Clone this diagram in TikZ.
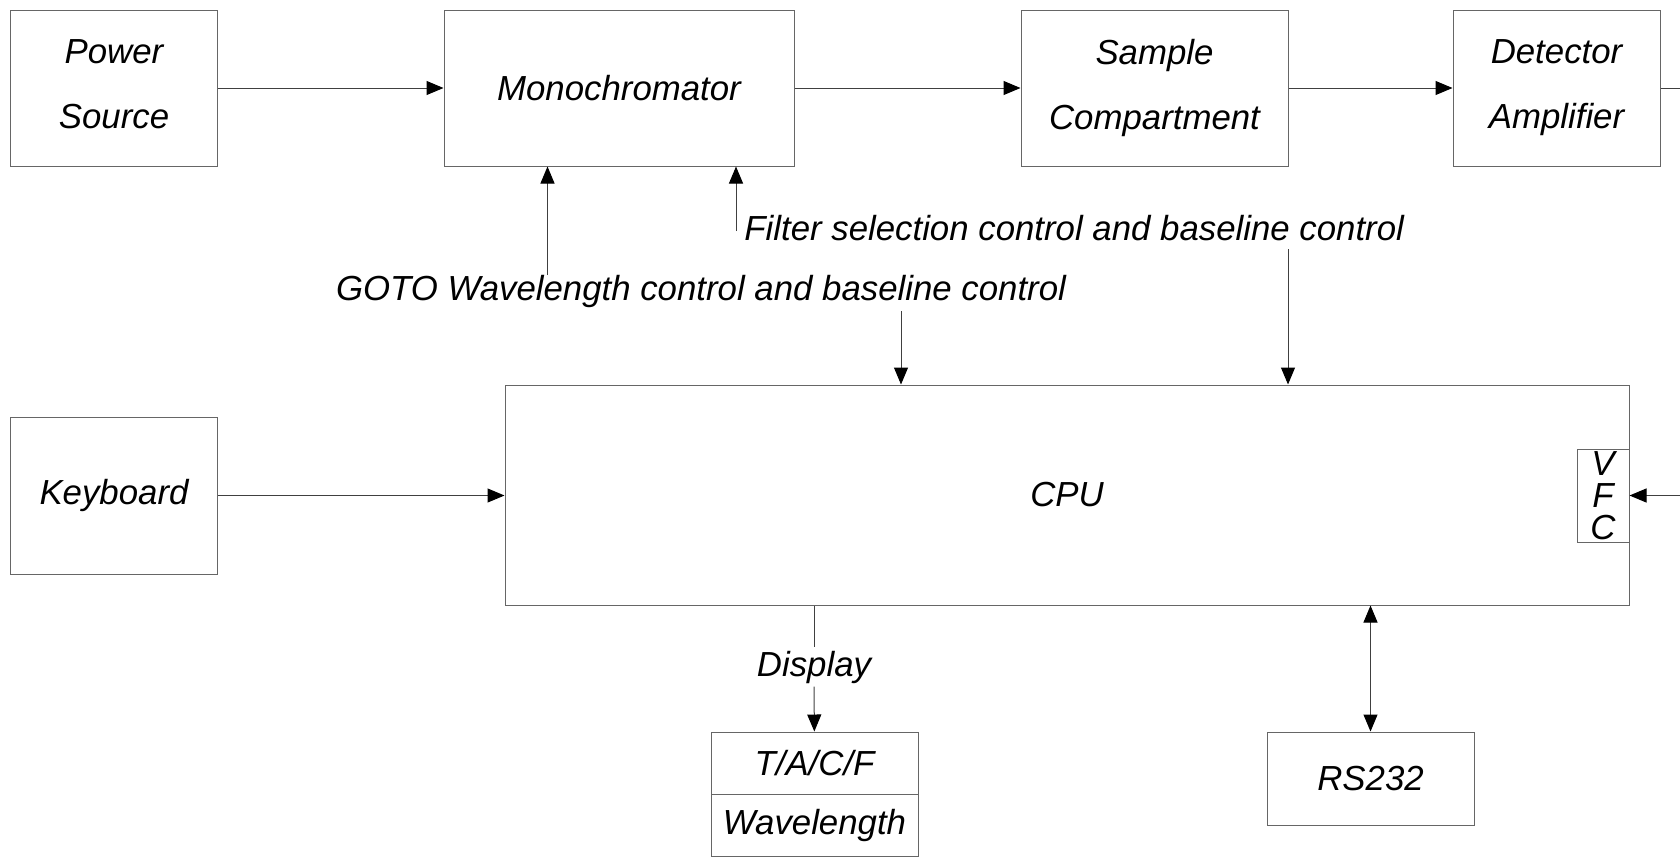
\documentclass[tikz,border=0pt]{standalone}
\usepackage{fontspec}
\setmainfont{Liberation Sans}
\usepackage{tikz}
\usetikzlibrary{calc,arrows.meta,positioning}
\definecolor{linegrey}{gray}{0.25}
\definecolor{boxgrey}{gray}{0.4}
\tikzset{arr/.style={-{Triangle[length=8.5pt,width=7pt,black]}},dblarr/.style={{Triangle[length=8.5pt,width=7pt,black]}-{Triangle[length=8.5pt,width=7pt,black]}}}

\begin{document}
\begin{tikzpicture}[x=0.5pt,y=-0.5pt,font=\fontsize{17.4}{32.5}\selectfont\itshape]

\tikzset{unitbox/.style={draw=boxgrey,line width=0.5pt,inner sep=0pt,align=center,minimum width=103.5pt,minimum height=78pt},
cpubox/.style={draw=boxgrey,line width=0.5pt,inner sep=0pt,minimum width=562pt,minimum height=110pt},
smallbox/.style={draw=boxgrey,line width=0.5pt,inner sep=0pt,minimum width=103.5pt,minimum height=31pt},
tag/.style={inner sep=1.5pt},
wire/.style={draw=linegrey,line width=0.5pt}}

\useasboundingbox (0,0) rectangle (1680,857);

% Top row
\node[unitbox] (power) at (114,88) {Power\\Source\vphantom{p}};
\node[unitbox,minimum width=175pt] (mono) at (619,88) {Monochromator};
\node[unitbox,minimum width=133.5pt] (sample) at (1154.5,88) {Sample\\Compartment};
\node[unitbox] (det) at (1556.5,88) {Detector\\Amplifier};
\coordinate (detout) at (1680,88);

% Control labels
\node[tag] (filter) at (741,228) [anchor=west] {Filter selection control and baseline control};
\node[tag] (goto) at (701,291) {GOTO Wavelength control and baseline control};
\coordinate (gotoup) at (547.5,275);
\coordinate (filterup) at (736,231);
\coordinate (gotodown) at (901,311);
\coordinate (filterdown) at (1288,249);

% CPU and keyboard
\node[cpubox] (cpu) at (1067,495) {CPU};
\node[unitbox,minimum height=78.5pt] (keyb) at (114,495.5) {Keyboard};
\node[draw=boxgrey,line width=0.5pt,inner sep=0pt,minimum width=26pt,minimum height=46.5pt,align=center,font=\fontsize{17.4}{16}\selectfont\itshape] (vfc) at (1603,495.5) {V\\F\\C};
\coordinate (vfcin) at (1680,495.5);

% Display and RS232
\node[tag] (disp) at (814,667) {Display};
\node[smallbox] (tacf) at (814.5,763) {T/A/C/F};
\node[smallbox] (wave) at (814.5,825) {Wavelength};
\node[smallbox,minimum height=46.5pt] (rs) at (1370.5,778.5) {RS232};

% Signal path
\draw[wire,arr] (power) -- (mono);
\draw[wire,arr] (mono) -- (sample);
\draw[wire,arr] (sample) -- (det);
\draw[wire] (det) -- (detout);

% Control lines
\draw[wire,arr] (gotoup) -- (gotoup |- mono.south);
\draw[wire,arr] (filterup) -- (filterup |- mono.south);
\draw[wire,arr] (gotodown) -- (gotodown |- cpu.north);
\draw[wire,arr] (filterdown) -- (filterdown |- cpu.north);

% CPU inputs and outputs
\draw[wire,arr] (keyb) -- (cpu.west |- keyb);
\draw[wire,arr] (vfcin) -- (vfc.east);
\draw[wire] (cpu.south -| disp) -- (disp);
\draw[wire,arr] (disp) -- (tacf);
\draw[wire,dblarr] (cpu.south -| rs) -- (rs);

\end{tikzpicture}
\end{document}
